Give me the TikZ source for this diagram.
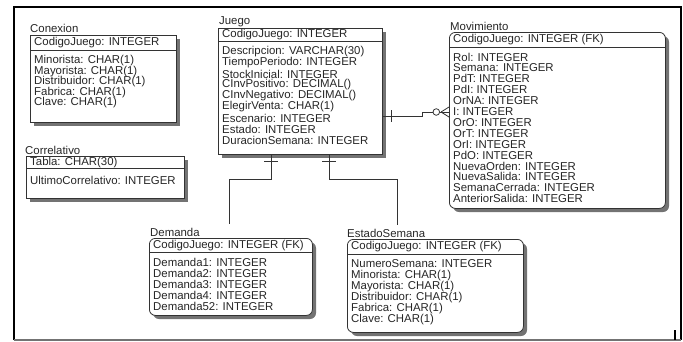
\documentclass[tikz,border=0pt]{standalone}
\usepackage{fontspec}
\setmainfont{Liberation Sans}
\begin{document}
\begin{tikzpicture}[x=1pt,y=-1pt,
  every node/.style={font=\fontsize{11.4}{12}\selectfont, text=black!85, inner sep=0pt},
  ent/.style={draw=black!80, line width=0.8pt, fill=white, anchor=north west},
  rent/.style={ent, rounded corners=6pt},
  shade/.style={fill=black!55},
  attr/.style={anchor=west},
  lbl/.style={anchor=west},
  conn/.style={draw=black!80, line width=0.8pt},
  frameline/.style={draw=black, line width=1.4pt}]
\useasboundingbox (0,0) rectangle (683,341);
\draw[frameline] (14,340) -- (14,7) -- (681,7) -- (681,340);
\draw[draw=black!55, line width=1.2pt] (14,340) -- (681,340);
\draw[line width=1.2pt] (675,330) -- (675,340);

\newcommand\myrows[5]{%
  \foreach \t [count=\i] in {#5} {\node[attr] (#3\i) at (#1,{#2+(\i-1)*#4}) {\t};}}

% Shadows (drawn first, behind the boxes)
\fill[shade] (34,39) rectangle (180,126);
\fill[shade] (30,160) rectangle (188,202);
\fill[shade] (222,32) rectangle (386,158);
\fill[shade, rounded corners=6pt] (453,36) rectangle (669,212);
\fill[shade, rounded corners=6pt] (153,242) rectangle (316,319);
\fill[shade, rounded corners=6pt] (351,243) rectangle (527,336);

% Conexion
\node[lbl] (conexlbl) at (30,28) {Conexion};
\node[ent, minimum width=146pt, minimum height=87pt] (conex) at (30,35) {};
\draw[conn] (conex.west |- 0,50) -- (conex.east |- 0,50);
\node[attr] (conexpk) at (34,42.5) {CodigoJuego: INTEGER};
\myrows{34}{61}{cx}{10.4}{Minorista: CHAR(1),Mayorista: CHAR(1),Distribuidor: CHAR(1),Fabrica: CHAR(1),Clave: CHAR(1)}

% Correlativo
\node[lbl] (corrlbl) at (25,150) {Correlativo};
\node[ent, minimum width=158pt, minimum height=42pt] (corr) at (26,156) {};
\draw[conn] (corr.west |- 0,168.5) -- (corr.east |- 0,168.5);
\node[attr] (corrpk) at (30,162.5) {Tabla: CHAR(30)};
\node[attr] (corr1) at (30,180) {UltimoCorrelativo: INTEGER};

% Juego
\node[lbl] (juegolbl) at (219,22) {Juego};
\node[ent, minimum width=164pt, minimum height=126pt] (juego) at (218,28) {};
\draw[conn] (juego.west |- 0,41.5) -- (juego.east |- 0,41.5);
\node[attr] (juegopk) at (222,35) {CodigoJuego: INTEGER};
\myrows{222}{52}{jg}{11}{Descripcion: VARCHAR(30),TiempoPeriodo: INTEGER,StockInicial: INTEGER,CInvPositivo: DECIMAL(),CInvNegativo: DECIMAL(),ElegirVenta: CHAR(1),Escenario: INTEGER,Estado: INTEGER,DuracionSemana: INTEGER}

% Movimiento
\node[lbl] (movlbl) at (450,26) {Movimiento};
\node[rent, minimum width=216pt, minimum height=176pt] (mov) at (449,32) {};
\draw[conn] (mov.west |- 0,47.5) -- (mov.east |- 0,47.5);
\node[attr] (movpk) at (453,40) {CodigoJuego: INTEGER (FK)};
\myrows{453}{57}{mv}{10.9}{Rol: INTEGER,Semana: INTEGER,PdT: INTEGER,PdI: INTEGER,OrNA: INTEGER,I: INTEGER,OrO: INTEGER,OrT: INTEGER,OrI: INTEGER,PdO: INTEGER,NuevaOrden: INTEGER,NuevaSalida: INTEGER,SemanaCerrada: INTEGER,AnteriorSalida: INTEGER}

% Demanda
\node[lbl] (demlbl) at (150,232) {Demanda};
\node[rent, minimum width=163pt, minimum height=77pt] (dem) at (149,238) {};
\draw[conn] (dem.west |- 0,252) -- (dem.east |- 0,252);
\node[attr] (dempk) at (153,245.5) {CodigoJuego: INTEGER (FK)};
\myrows{153}{262}{dm}{11}{Demanda1: INTEGER,Demanda2: INTEGER,Demanda3: INTEGER,Demanda4: INTEGER,Demanda52: INTEGER}

% EstadoSemana
\node[lbl] (estlbl) at (347,233) {EstadoSemana};
\node[rent, minimum width=176pt, minimum height=93pt] (est) at (347,239) {};
\draw[conn] (est.west |- 0,254) -- (est.east |- 0,254);
\node[attr] (estpk) at (351,246.5) {CodigoJuego: INTEGER (FK)};
\myrows{351}{264}{es}{11.2}{NumeroSemana: INTEGER,Minorista: CHAR(1),Mayorista: CHAR(1),Distribuidor: CHAR(1),Fabrica: CHAR(1),Clave: CHAR(1)}

% Connectors
\coordinate (demend) at (229,224);
\coordinate (estend) at (397,225);
\draw[conn] (juego.south -| 271,0) -- (271,179) -- (demend |- 0,179) -- (demend);
\draw[conn] (264,161) -- (278,161);
\draw[conn] (juego.south -| 329,0) -- (329,179) -- (estend |- 0,179) -- (estend);
\draw[conn] (322,161) -- (336,161);

\draw[conn] (juego.east |- 0,116) -- (422,116) -- (422,112) -- (433,112);
\draw[conn] (391,110) -- (391,122);
\draw[conn] (436.3,112) circle (3.3);
\draw[conn] (439.6,112) -- (mov.west |- 0,112);
\draw[conn] (441,112) -- (mov.west |- 0,107);
\draw[conn] (441,112) -- (mov.west |- 0,117);
\end{tikzpicture}
\end{document}
